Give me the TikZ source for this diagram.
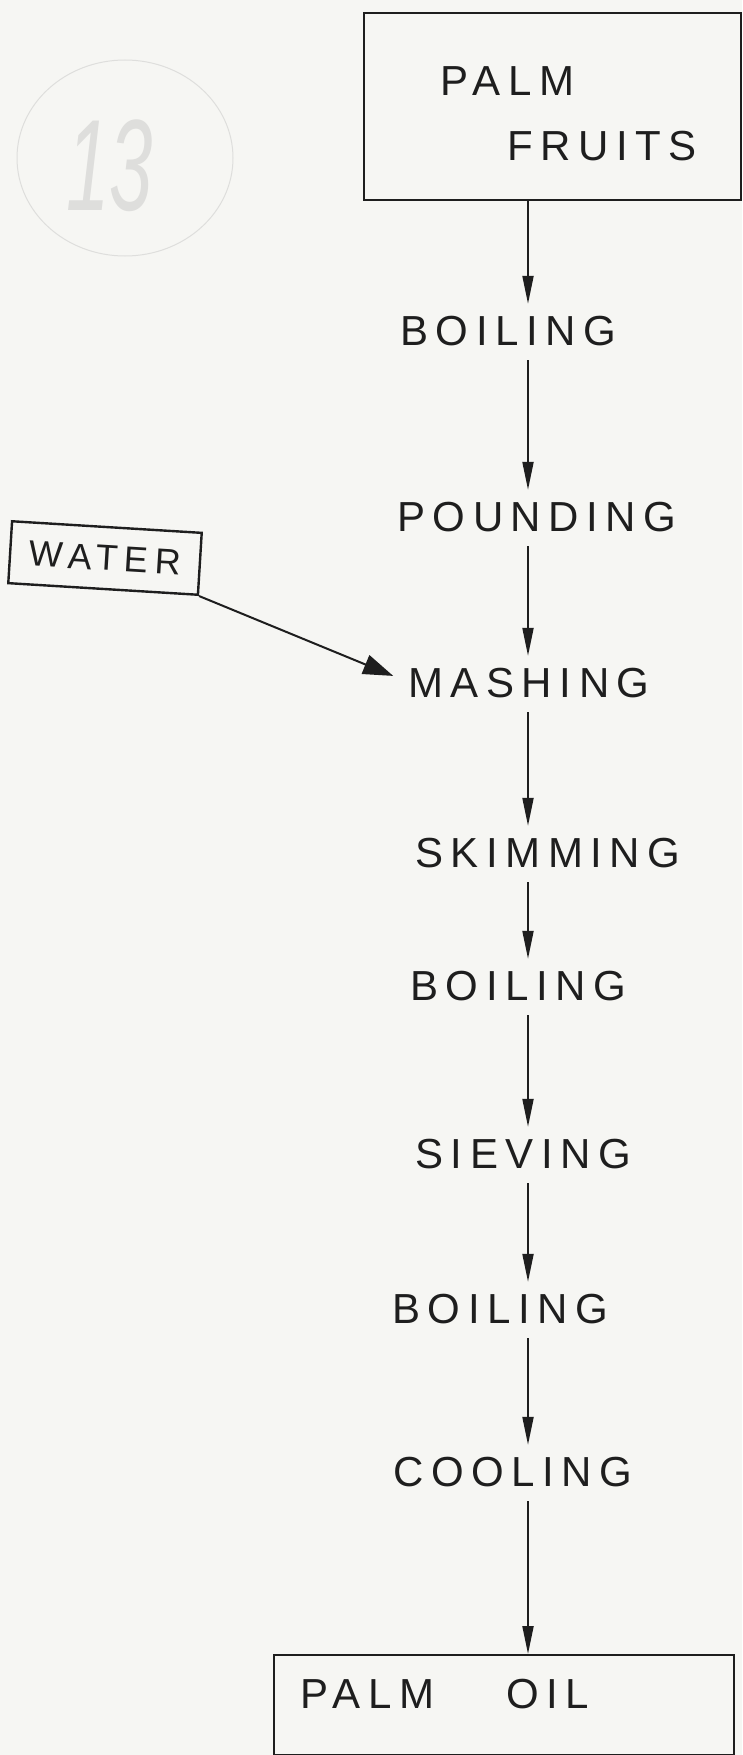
\documentclass[tikz,border=0pt]{standalone}
\usepackage{fontspec}
\newfontfamily\handfont[LetterSpace=18]{Liberation Sans}
\newfontfamily\plainfont{Liberation Sans}
\usetikzlibrary{arrows.meta}
\definecolor{paper}{RGB}{246,246,243}
\definecolor{ink}{RGB}{30,30,30}
\definecolor{pencil}{RGB}{222,222,220}
\tikzset{
  word/.style={font=\handfont\fontsize{42}{46}\selectfont, text=ink, inner sep=0pt,
    text height=30pt, text depth=0pt, minimum height=52pt, anchor=west},
  flow/.style={draw=ink, line width=2pt, -{Triangle[length=28pt,width=11pt]}, shorten <=4pt},
  boxline/.style={draw=ink, line width=2.4pt, inner sep=0pt},
  feed/.style={draw=ink, line width=2pt, -{Triangle[length=30pt,width=20pt]}},
}
\begin{document}
\begin{tikzpicture}[x=1pt,y=-1pt]
\fill[paper] (0,0) rectangle (742,1755);
\useasboundingbox (0,0) rectangle (742,1755);

% faint page annotation
\draw[pencil, line width=1pt] (125,158) ellipse [x radius=108pt, y radius=98pt];
\node[text=pencil, font=\plainfont\itshape\fontsize{130}{130}\selectfont, inner sep=0pt] (pagenum) at (110,166) {\scalebox{0.6}[1]{13}};

\coordinate (spine) at (528,0);

% source box
\node[boxline, minimum width=377pt, minimum height=187pt, anchor=north west] (fruits) at (363,12) {};
\node[word] (palm) at (440,81) {PALM};
\node[word] (fruitsword) at (507,146) {FRUITS};

% process steps
\node[word] (boil1) at (400,330) {BOILING};
\node[word] (pound) at (397,516) {POUNDING};
\node[word] (mash) at (408,682) {MASHING};
\node[word] (skim) at (415,852) {SKIMMING};
\node[word] (boil2) at (410,985) {BOILING};
\node[word] (sieve) at (415,1153) {SIEVING};
\node[word] (boil3) at (392,1308) {BOILING};
\node[word] (cool) at (393,1471) {COOLING};

% product box
\node[boxline, minimum width=460pt, minimum height=100pt, anchor=north west] (oil) at (273,1654) {};
\node[word] (oilword) at (300,1693) {PALM\hspace{72pt}OIL};

% water input
\node[boxline, word, anchor=center, font=\handfont\fontsize{36}{40}\selectfont,
  minimum width=190pt, minimum height=62pt, text height=25pt, rotate=-3.5] (water) at (105,558) {WATER};

% connectors
\draw[flow, shorten <=0pt] (fruits.south -| spine) -- (boil1.north -| spine);
\draw[flow] (boil1.south -| spine) -- (pound.north -| spine);
\draw[flow] (pound.south -| spine) -- (mash.north -| spine);
\draw[flow] (mash.south -| spine) -- (skim.north -| spine);
\draw[flow] (skim.south -| spine) -- (boil2.north -| spine);
\draw[flow] (boil2.south -| spine) -- (sieve.north -| spine);
\draw[flow] (sieve.south -| spine) -- (boil3.north -| spine);
\draw[flow] (boil3.south -| spine) -- (cool.north -| spine);
\draw[flow] (cool.south -| spine) -- (oil.north -| spine);
\draw[feed, shorten >=16pt] (water.south east) -- (mash.west);
\end{tikzpicture}
\end{document}
